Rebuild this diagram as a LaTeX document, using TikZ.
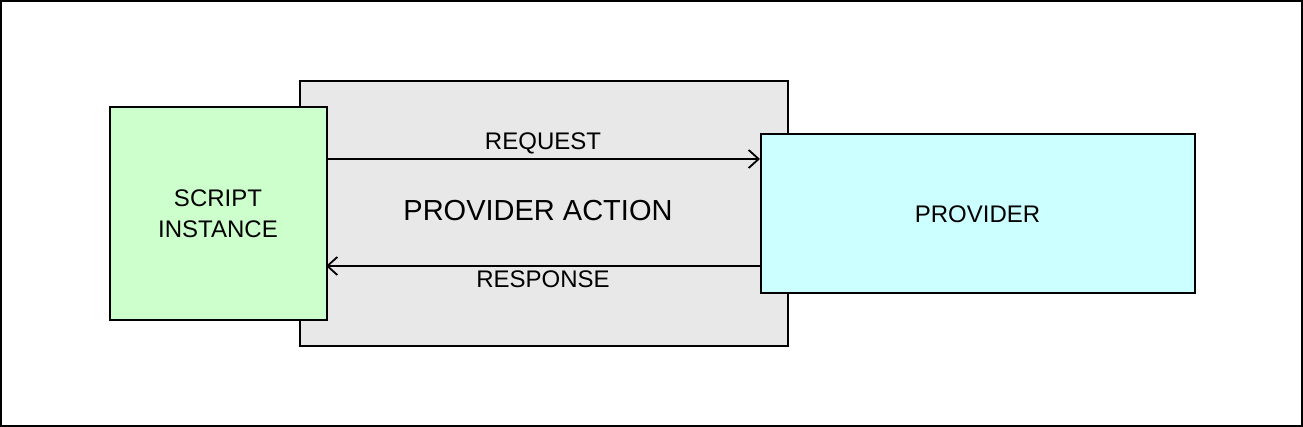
\documentclass[tikz,border=0pt]{standalone}
\usepackage{fontspec}
\setmainfont{Liberation Sans}
\usetikzlibrary{arrows.meta}
\tikzset{
  box/.style={draw=black, line width=2pt, inner sep=0pt, align=center, font=\fontsize{24}{31}\selectfont},
  conn/.style={line width=2pt, -{Straight Barb[length=10pt,width=18pt,line width=1.8pt]}},
  lbl/.style={font=\fontsize{24}{28}\selectfont, inner sep=0pt}
}
\begin{document}
\begin{tikzpicture}[x=1pt,y=-1pt]
\useasboundingbox (0,0) rectangle (1303,427);
\draw[line width=2pt, fill=white] (1,1) rectangle (1302,426);
\node[box, fill={rgb,255:red,232;green,232;blue,232}, minimum width=488pt, minimum height=265pt, anchor=north west] (action) at (298.5,80.5) {};
\node[font=\fontsize{29}{32}\selectfont] (actlbl) at (538,211) {PROVIDER ACTION};
\node[box, fill={rgb,255:red,204;green,255;blue,204}, minimum width=217pt, minimum height=213pt, anchor=north west] (script) at (108.5,106.5) {SCRIPT\\INSTANCE};
\node[box, fill={rgb,255:red,204;green,255;blue,255}, minimum width=434pt, minimum height=159pt, anchor=north west] (prov) at (759.5,133.5) {PROVIDER};
\coordinate (rqs) at (326,159);
\coordinate (rqe) at (760,159);
\coordinate (rss) at (760,266);
\coordinate (rse) at (326,266);
\draw[conn] (rqs) -- (rqe) node[lbl, midway, above=4pt] (req) {REQUEST};
\draw[conn] (rss) -- (rse) node[lbl, midway, below=4pt] (resp) {RESPONSE};
\end{tikzpicture}
\end{document}
